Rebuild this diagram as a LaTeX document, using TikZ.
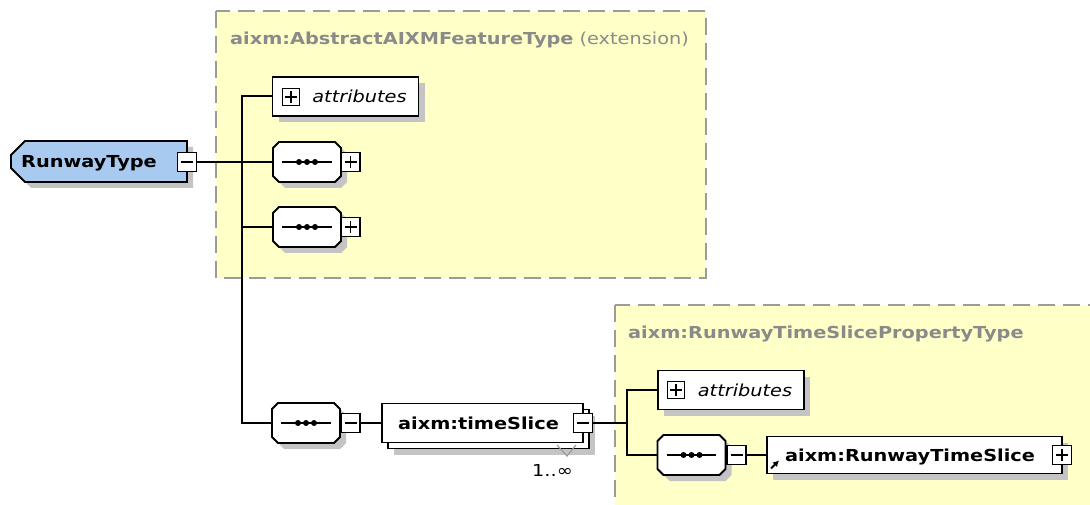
\documentclass[tikz,border=0pt]{standalone}
\usepackage{fontspec}
\setmainfont[FakeStretch=1.17]{DejaVu Sans}
\usetikzlibrary{shapes.misc,shadows,arrows.meta}
\definecolor{ybg}{RGB}{255,255,200}
\definecolor{ybd}{RGB}{155,155,155}
\definecolor{tblue}{RGB}{168,202,240}
\definecolor{shd}{RGB}{196,196,196}
\definecolor{ttl}{RGB}{138,138,138}
\begin{document}
\begin{tikzpicture}[x=1pt,y=-1pt,
  ybox/.style={fill=ybg,draw=ybd,line width=1.8pt,dash pattern=on 17pt off 8pt},
  ttlstyle/.style={anchor=base west,inner sep=0pt,text=ttl,font=\fontsize{16.5}{18}\selectfont},
  shad/.style={drop shadow={shadow xshift=6pt,shadow yshift=-6pt,fill=shd,opacity=1}},
  elem/.style={draw,fill=white,line width=1.9pt,inner sep=0pt,text height=12pt,text depth=0pt,font=\bfseries\fontsize{16.5}{18}\selectfont},
  seqbox/.style={elem,shad,chamfered rectangle,chamfered rectangle xsep=11pt,chamfered rectangle ysep=11pt,minimum width=68pt,minimum height=40pt},
  attrbox/.style={elem,shad,minimum width=146pt,minimum height=39pt,font=\itshape\fontsize{16.5}{18}\selectfont},
  pmbox/.style={draw,fill=white,line width=1.6pt,minimum size=19pt,inner sep=0pt},
  minusbox/.style={pmbox,path picture={\draw[line width=1.5pt] ([xshift=-6pt]path picture bounding box.center) -- ([xshift=6pt]path picture bounding box.center);}},
  plusbox/.style={pmbox,path picture={\draw[line width=1.5pt] ([xshift=-6pt]path picture bounding box.center) -- ([xshift=6pt]path picture bounding box.center) ([yshift=-6pt]path picture bounding box.center) -- ([yshift=6pt]path picture bounding box.center);}},
  conn/.style={line width=2pt},
]
\clip (0,0) rectangle (1090,505);
\fill[white] (0,0) rectangle (1090,505);
% yellow regions
\draw[ybox] (216,11) rectangle (706,278);
\draw[ybox] (615,305) rectangle (1110,530);
\node[ttlstyle] (t1) at (230,45) {\textbf{aixm:AbstractAIXMFeatureType} (extension)};
\node[ttlstyle] (t2) at (628,338) {\textbf{aixm:RunwayTimeSlicePropertyType}};

% root
\node[elem,shad,fill=tblue,chamfered rectangle,chamfered rectangle corners={north west,south west},chamfered rectangle xsep=8pt,chamfered rectangle ysep=8pt,minimum width=176pt,minimum height=41pt] (root) at (99,161.5) {RunwayType\hspace{20pt}\null};
\node[minusbox] (m0) at (187,162) {};

% first group
\coordinate (j1) at (242,162);
\node[attrbox] (a1) at (345.5,96.5) {\hspace{28pt}attributes};
\node[plusbox,minimum size=17pt,line width=1.3pt] (a1p) at (291,97) {};
\node[seqbox] (s1) at (307,162) {};
\node[plusbox] (p1) at (350.5,162) {};
\node[seqbox] (s2) at (307,227) {};
\node[plusbox] (p2) at (350.5,227) {};
\node[seqbox] (s3) at (306,423) {};
\node[minusbox] (m3) at (350.5,423) {};

% timeSlice stack
\node[elem,shad,minimum width=201pt,minimum height=39pt] (tsb) at (488.5,429) {};
\node[elem,minimum width=201pt,minimum height=39pt] (ts) at (482.5,423) {aixm:timeSlice\hspace{8pt}\null};
\node[minusbox] (m4) at (583,423) {};
\draw[ybd,line width=1.2pt] (557,445) -- (567,456) -- (576,445);
\node[anchor=base west,inner sep=0pt,font=\fontsize{16.5}{18}\selectfont] (mult) at (532,476) {1..∞};

% second group
\coordinate (j2) at (627,423);
\node[attrbox] (a2) at (731,390) {\hspace{28pt}attributes};
\node[plusbox,minimum size=17pt,line width=1.3pt] (a2p) at (676,390) {};
\node[seqbox] (s4) at (691.5,455) {};
\node[minusbox] (m5) at (736.5,455) {};
\node[elem,shad,minimum width=295pt,minimum height=37pt] (rts) at (914.5,455) {aixm:RunwayTimeSlice\hspace{9pt}\null};
\node[plusbox] (p5) at (1062,455) {};
\draw[line width=2pt,-{Latex[length=6pt,width=6.5pt]}] ([xshift=5pt,yshift=6pt]rts.south west) -- ++(8pt,8pt);

% sequence markers
\foreach \n in {s1,s2,s3,s4}{
  \draw[line width=1.9pt] ([xshift=10pt]\n.west) -- ([xshift=-10pt]\n.east);
  \foreach \d in {-8,0,8}
    \fill ([xshift=\d pt]\n.center) circle (3pt);
}

% connectors
\draw[conn] (m0.east) -- (j1);
\draw[conn] (j1) |- (a1.west);
\draw[conn] (j1) -- (s1.west);
\draw[conn] (j1) |- (s2.west);
\draw[conn] (j1) |- (s3.west);
\draw[conn] (m3.east) -- (ts.west);
\draw[conn] (m4.east) -- (j2);
\draw[conn] (j2) |- (a2.west);
\draw[conn] (j2) |- (s4.west);
\draw[conn] (m5.east) -- (rts.west);
\end{tikzpicture}
\end{document}
